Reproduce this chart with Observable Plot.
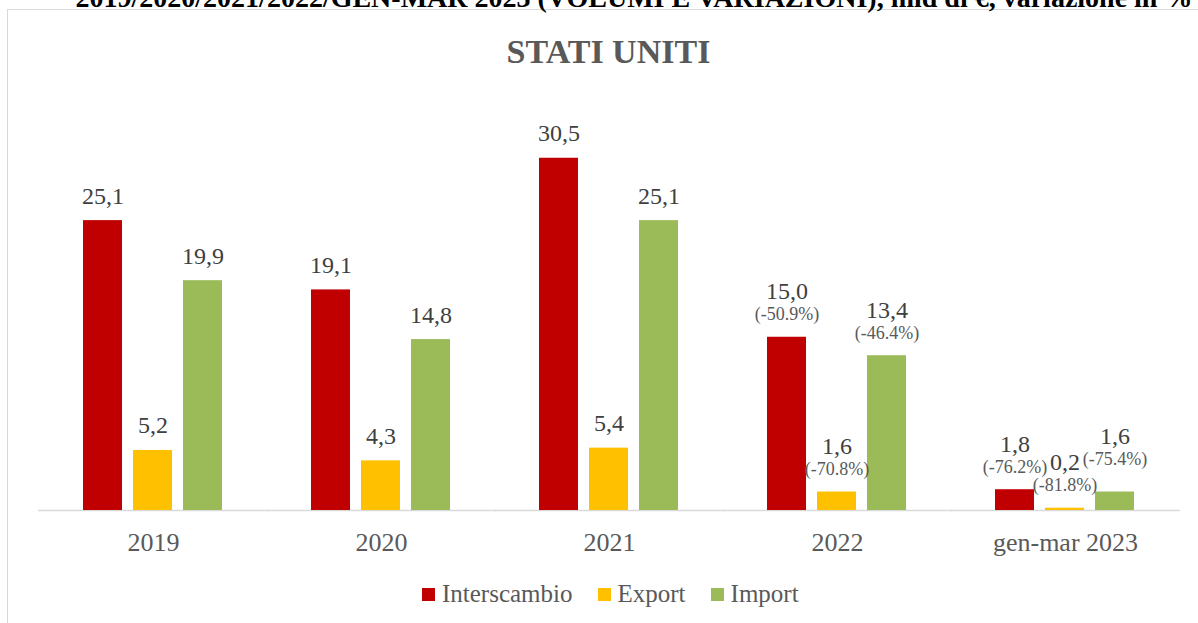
<!DOCTYPE html>
<html>
<head>
<meta charset="utf-8">
<script src="https://cdn.jsdelivr.net/npm/d3@7"></script>
<script src="https://cdn.jsdelivr.net/npm/@observablehq/plot@0.6"></script>
<style>
  html, body { margin: 0; padding: 0; background: #fff; }
  #page { position: relative; width: 1198px; height: 623px; overflow: hidden; font-family: "Liberation Serif", serif; }
  #frame { position: absolute; left: 7px; top: 9px; width: 1300px; height: 700px; border-left: 1.5px solid #d9d9d9; border-top: 1px solid #d9d9d9; }
  #head { position: absolute; left: 0; width: 1268px; top: -16px; text-align: center; font-size: 28px; line-height: 28px; font-weight: bold; color: #000; white-space: nowrap; }
  #title { position: absolute; left: 0; width: 1217px; top: 35px; text-align: center; font-size: 34px; line-height: 34px; font-weight: bold; color: #595959; }
  #chart { position: absolute; left: 0; top: 80px; }
  #legend { position: absolute; left: 422px; top: 579px; display: flex; gap: 25px; font-size: 25px; line-height: 30px; color: #595959; }
  #legend .item { display: flex; align-items: center; }
  #legend .sw { width: 13px; height: 13px; margin-right: 7px; }
</style>
</head>
<body>
<div id="page">
  <div id="frame"></div>
  <div id="head">2019/2020/2021/2022/GEN-MAR 2023 (VOLUMI E VARIAZIONI), mld di €, variazione in %</div>
  <div id="title">STATI UNITI</div>
  <div id="chart"></div>
  <div id="legend"></div>
</div>
<script>
const years = ["2019", "2020", "2021", "2022", "gen-mar 2023"];
const series = ["Interscambio", "Export", "Import"];
const colors = ["#C00000", "#FFC000", "#9BBB59"];
const interscambio = [25.1, 19.1, 30.5, 15.0, 1.8];
const exportVals = [5.2, 4.3, 5.4, 1.6, 0.2];
const importVals = [19.9, 14.8, 25.1, 13.4, 1.6];
const interscambioPct = [null, null, null, -50.9, -76.2];
const exportPct = [null, null, null, -70.8, -81.8];
const importPct = [null, null, null, -46.4, -75.4];

const vals = [interscambio, exportVals, importVals];
const pcts = [interscambioPct, exportPct, importPct];
const data = years.flatMap((yr, i) => series.map((s, j) => ({year: yr, series: s, value: vals[j][i], pct: pcts[j][i]})));

const fmt = v => d3.format(".1f")(v).replace(".", ",");
const isSpecial = d => d.year === "gen-mar 2023" && d.series === "Import";
const common = {fx: "year", x: "series", y: "value", lineAnchor: "bottom"};

const chart = Plot.plot({
  width: 1198,
  height: 480,
  marginTop: 20,
  marginBottom: 50,
  marginLeft: 37,
  marginRight: 18,
  style: {fontFamily: "'Liberation Serif', serif", background: "transparent"},
  fx: {domain: years, paddingInner: 0.2826, paddingOuter: 0.1413, label: null},
  x: {domain: series, padding: 0.2157, axis: null},
  y: {domain: [0, 35.5], axis: null},
  color: {domain: series, range: colors},
  marks: [
    Plot.ruleY([0], {stroke: "#d9d9d9", strokeWidth: 1.5, insetLeft: -33, insetRight: -33}),
    Plot.barY(data, {fx: "year", x: "series", y: "value", fill: "series"}),
    Plot.text(data.filter(d => d.pct == null), {...common, text: d => fmt(d.value), dy: -17, fontSize: 24, fill: "#404040"}),
    Plot.text(data.filter(d => d.pct != null && !isSpecial(d)), {...common, text: d => fmt(d.value), dy: -38, fontSize: 24, fill: "#404040"}),
    Plot.text(data.filter(d => d.pct != null && !isSpecial(d)), {...common, text: d => `(${d.pct.toFixed(1)}%)`, dy: -17, fontSize: 18, fill: "#595959"}),
    Plot.text(data.filter(isSpecial), {...common, text: d => fmt(d.value), dy: -48, fontSize: 24, fill: "#404040"}),
    Plot.text(data.filter(isSpecial), {...common, text: d => `(${d.pct.toFixed(1)}%)`, dy: -27, fontSize: 18, fill: "#595959"}),
    Plot.axisFx({anchor: "bottom", tickSize: 0, tickPadding: 22, fontSize: 26, color: "#595959", fill: "#595959", label: null})
  ]
});
document.getElementById("chart").appendChild(chart);

const legend = document.getElementById("legend");
series.forEach((s, i) => {
  const item = document.createElement("div");
  item.className = "item";
  const sw = document.createElement("span");
  sw.className = "sw";
  sw.style.background = colors[i];
  const t = document.createElement("span");
  t.textContent = s;
  item.appendChild(sw);
  item.appendChild(t);
  legend.appendChild(item);
});
</script>
</body>
</html>
